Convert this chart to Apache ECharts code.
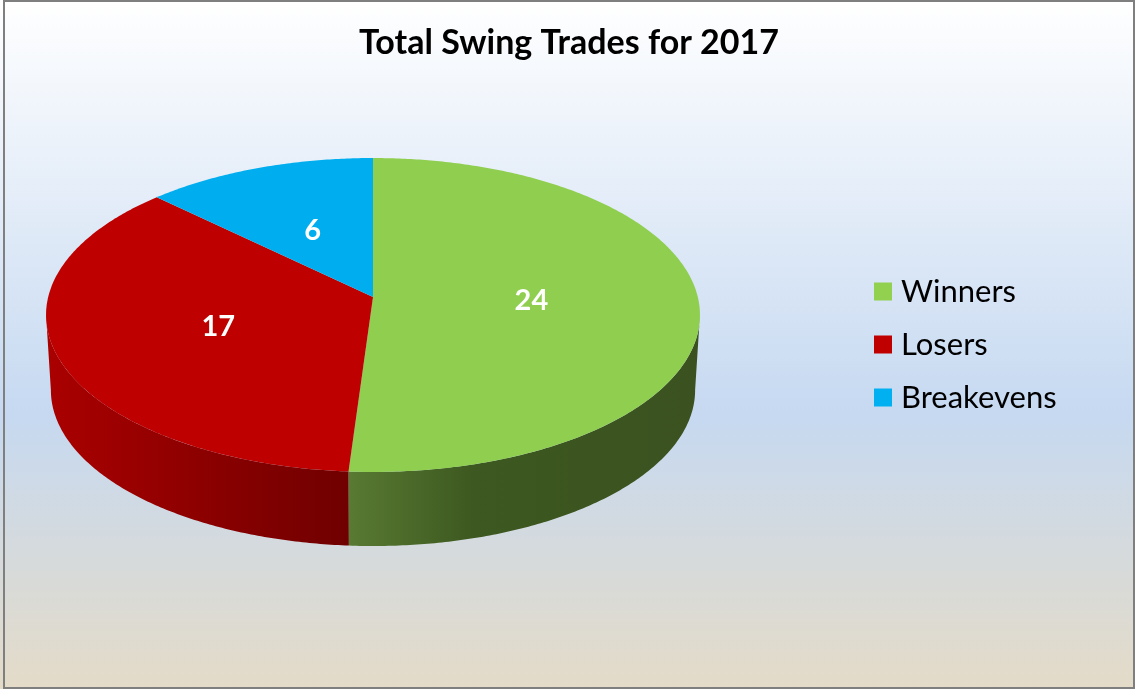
<!DOCTYPE html>
<html>
<head>
<meta charset="utf-8">
<title>Total Swing Trades for 2017</title>
<style>
html, body { margin: 0; padding: 0; background: #fff; }
#chart { width: 1135px; height: 689px; }
</style>
<script src="https://cdn.jsdelivr.net/npm/echarts@6/dist/echarts.min.js"></script>
</head>
<body>
<div id="chart"></div>
<script>
var titleText = 'Total Swing Trades for 2017';
var categories = ['Winners', 'Losers', 'Breakevens'];
var tradeCounts = [24, 17, 6];
var legendColors = ['#92D050', '#C00000', '#00B0F0'];
var topColors = ['#8FCE4F', '#BE0000', '#00AEEF'];
var wallStops = [
    [[0, '#587a32'], [0.36, '#3d5820'], [1, '#3b5220']],
    [[0, '#aa0000'], [1, '#700000']],
    [[0, '#006f99'], [1, '#006f99']]
];
var labelRadius = [0.487, 0.5, 0.5];

var total = tradeCounts.reduce(function (a, b) { return a + b; }, 0);
var fontName = 'Lato, "Noto Sans", sans-serif';

// the tilted disc: perspective projection of a circle, top and bottom face
var k = 0.1146;
var topFace = { cx: 373, cy: 297, a: 324.8, b: 154.9 };
var bottomFace = { cx: 373, cy: 372.2, a: 320, b: 153.9 };
// angles where the rim turns away from the viewer
var rimStart = Math.acos(-k);
var rimEnd = 2 * Math.PI - rimStart;

function project(face, angle, r) {
    var u = Math.sin(angle) * r;
    var v = -Math.cos(angle) * r;
    var w = 1 - k * v;
    return [face.cx + face.a * u / w, face.cy + face.b * v / w];
}

function arc(face, from, to) {
    var pts = [];
    var n = Math.max(2, Math.ceil(Math.abs(to - from) / 0.01));
    for (var i = 0; i <= n; i++) {
        pts.push(project(face, from + (to - from) * i / n, 1));
    }
    return pts;
}

function renderSlice(index) {
    return function (params, api) {
        var before = 0;
        for (var i = 0; i < index; i++) before += tradeCounts[i];
        var start = before / total * 2 * Math.PI;
        var end = (before + api.value(0)) / total * 2 * Math.PI;
        var mid = (start + end) / 2;
        var children = [];

        var wallFrom = Math.max(start, rimStart);
        var wallTo = Math.min(end, rimEnd);
        if (wallTo > wallFrom) {
            var upper = arc(topFace, wallFrom, wallTo);
            var lower = arc(bottomFace, wallFrom, wallTo).reverse();
            children.push({
                type: 'polygon',
                shape: { points: upper.concat(lower) },
                style: {
                    fill: {
                        type: 'linear', global: true,
                        x: upper[upper.length - 1][0], y: 0,
                        x2: upper[0][0], y2: 0,
                        colorStops: wallStops[index].map(function (s) {
                            return { offset: s[0], color: s[1] };
                        })
                    }
                }
            });
        }

        children.push({
            type: 'polygon',
            shape: { points: [project(topFace, 0, 0)].concat(arc(topFace, start, end)) },
            style: { fill: topColors[index] }
        });

        var labelPos = project(topFace, mid, labelRadius[index]);
        children.push({
            type: 'text',
            x: labelPos[0],
            y: labelPos[1] + 1,
            style: {
                text: String(api.value(0)),
                fill: '#fff',
                font: 'bold 29px ' + fontName,
                align: 'center',
                verticalAlign: 'middle'
            }
        });

        return { type: 'group', children: children };
    };
}

var myChart = echarts.init(document.getElementById('chart'));

var option = {
    animation: false,
    backgroundColor: {
        type: 'linear', x: 0, y: 0, x2: 0, y2: 1,
        colorStops: [
            { offset: 0, color: '#ffffff' },
            { offset: 0.6, color: '#c6d9f1' },
            { offset: 1, color: '#e4dbc8' }
        ]
    },
    title: {
        text: titleText,
        left: 564,
        top: 21,
        textAlign: 'center',
        textStyle: { fontFamily: fontName, fontWeight: 'bold', fontSize: 34, color: '#000' }
    },
    legend: {
        orient: 'vertical',
        left: 869,
        top: 271,
        itemWidth: 18,
        itemHeight: 18,
        itemGap: 22,
        icon: 'rect',
        data: categories,
        textStyle: { fontFamily: fontName, fontSize: 31, color: '#000', padding: [0, 0, 0, 4] }
    },
    graphic: [{
        type: 'rect',
        silent: true,
        shape: { x: 4, y: 1, width: 1130, height: 687 },
        style: { fill: 'none', stroke: '#7f7f7f', lineWidth: 2 }
    }],
    series: categories.map(function (name, i) {
        return {
            type: 'custom',
            name: name,
            coordinateSystem: 'none',
            itemStyle: { color: legendColors[i] },
            renderItem: renderSlice(i),
            data: [[tradeCounts[i]]]
        };
    })
};

myChart.setOption(option);
</script>
</body>
</html>
